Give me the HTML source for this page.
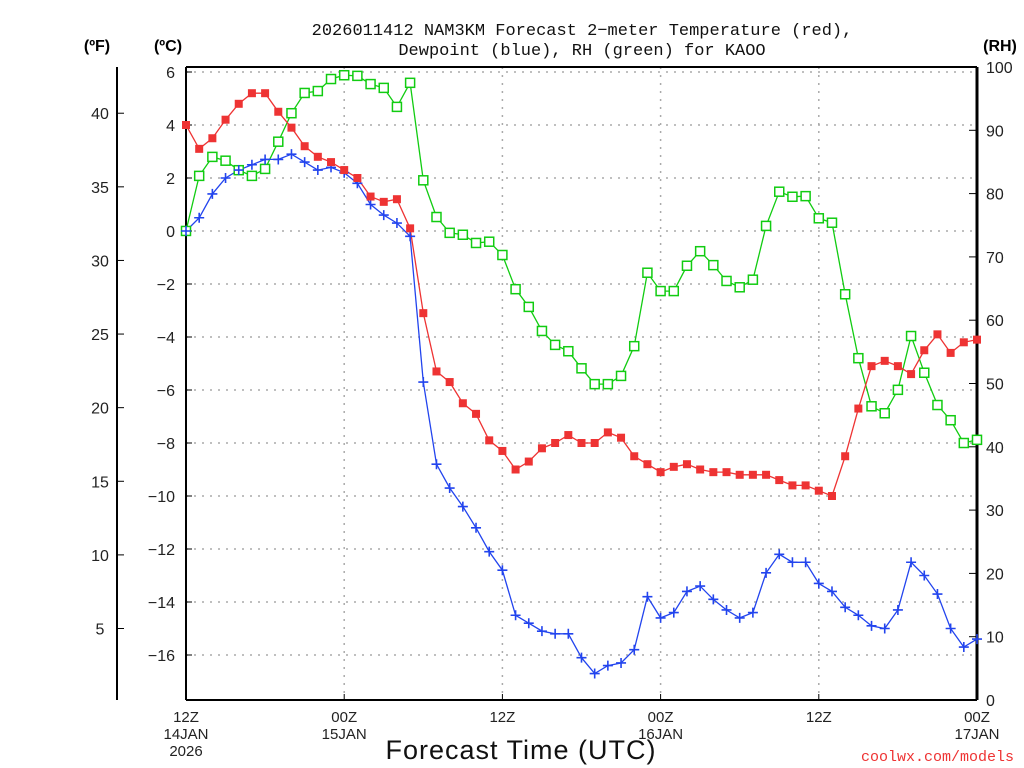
<!DOCTYPE html>
<html><head><meta charset="utf-8"><style>
body{margin:0;background:#fff;}
svg{display:block;font-family:"Liberation Sans",sans-serif;}
</style></head><body>
<svg id="chart" width="1024" height="768" xmlns="http://www.w3.org/2000/svg">
<g id="static"></g>
</svg>
<script>
const tempC=[4.0,3.1,3.5,4.2,4.8,5.2,5.2,4.5,3.9,3.2,2.8,2.6,2.3,2.0,1.3,1.1,1.2,0.1,-3.1,-5.3,-5.7,-6.5,-6.9,-7.9,-8.3,-9.0,-8.7,-8.2,-8.0,-7.7,-8.0,-8.0,-7.6,-7.8,-8.5,-8.8,-9.1,-8.9,-8.8,-9.0,-9.1,-9.1,-9.2,-9.2,-9.2,-9.4,-9.6,-9.6,-9.8,-10.0,-8.5,-6.7,-5.1,-4.9,-5.1,-5.4,-4.5,-3.9,-4.6,-4.2,-4.1];
const dewC=[0.0,0.5,1.4,2.0,2.3,2.5,2.7,2.7,2.9,2.6,2.3,2.4,2.2,1.8,1.0,0.6,0.3,-0.2,-5.7,-8.8,-9.7,-10.4,-11.2,-12.1,-12.8,-14.5,-14.8,-15.1,-15.2,-15.2,-16.1,-16.7,-16.4,-16.3,-15.8,-13.8,-14.6,-14.4,-13.6,-13.4,-13.9,-14.3,-14.6,-14.4,-12.9,-12.2,-12.5,-12.5,-13.3,-13.6,-14.2,-14.5,-14.9,-15.0,-14.3,-12.5,-13.0,-13.7,-15.0,-15.7,-15.4];
const rh=[74.1,82.8,85.8,85.2,83.7,82.8,83.9,88.2,92.7,95.9,96.2,98.1,98.7,98.6,97.3,96.7,93.7,97.5,82.1,76.3,73.8,73.5,72.2,72.4,70.3,64.9,62.1,58.3,56.1,55.1,52.4,49.9,49.9,51.2,55.9,67.5,64.6,64.6,68.6,70.9,68.7,66.2,65.2,66.4,74.9,80.3,79.5,79.6,76.1,75.4,64.1,54.0,46.4,45.3,49.0,57.5,51.7,46.6,44.2,40.6,41.1];
const cTicks=[6,4,2,0,-2,-4,-6,-8,-10,-12,-14,-16];
const fTicks=[40,35,30,25,20,15,10,5];
const rhTicks=[100,90,80,70,60,50,40,30,20,10,0];
const xTickHours=[0,12,24,36,48,60];
const xTickLabels=[["12Z","14JAN","2026"],["00Z","15JAN"],["12Z",""],["00Z","16JAN"],["12Z",""],["00Z","17JAN"]];

const L=186,R=977,T=67,B=700;
const xS=h=>L+(R-L)*h/60;
const yC=c=>231-26.5*c;
const yF=f=>yC((f-32)*5/9);
const yRH=v=>B-(B-T)*v/100;
const NS="http://www.w3.org/2000/svg";
const svg=document.getElementById('chart');
function mk(tag,attrs,parent){const e=document.createElementNS(NS,tag);for(const k in attrs)e.setAttribute(k,attrs[k]);(parent||svg).appendChild(e);return e;}
function txt(s,x,y,attrs){const e=mk('text',Object.assign({x:x,y:y},attrs));e.textContent=s;return e;}

// grid
cTicks.forEach(c=>{const y=yC(c);
 const g=mk('line',{x1:L,x2:R,y1:y,y2:y,stroke:'#aaa','stroke-dasharray':'2 6','stroke-width':1.5});
 
 
 const t=mk('line',{x1:L,x2:L+6,y1:y,y2:y,stroke:'#000','stroke-width':1});
 const lab=txt(String(c).replace('-','\u2212'),175,y+6,{'text-anchor':'end','font-size':16,fill:'#222'});
 
 
});
xTickHours.forEach((h,i)=>{const x=xS(h);
 if(h>0&&h<60){const g=mk('line',{x1:x,x2:x,y1:T,y2:B,stroke:'#aaa','stroke-dasharray':'2 6','stroke-width':1.5});
 
 }
 mk('line',{x1:x,x2:x,y1:B,y2:B-6,stroke:'#000'});
 xTickLabels[i].forEach((s,j)=>{const t=txt(s,x,722+j*17,{'text-anchor':'middle','font-size':15,fill:'#222'});
 
 });
});
// F axis
mk('line',{x1:117,x2:117,y1:T,y2:B,stroke:'#000','stroke-width':2});
fTicks.forEach(f=>{const y=yF(f);mk('line',{x1:117,x2:124,y1:y,y2:y,stroke:'#000'});
 const t=txt(String(f),100,y+6,{'text-anchor':'middle','font-size':16,fill:'#222'});
 
 });
// RH axis
rhTicks.forEach(v=>{const y=yRH(v);mk('line',{x1:R-8,x2:R,y1:y,y2:y,stroke:'#000'});
 const t=txt(String(v),986,y+6,{'font-size':16,fill:'#222'});
 
 });
// frame
mk('line',{x1:L,x2:R,y1:T,y2:T,stroke:'#000','stroke-width':2});
mk('line',{x1:L,x2:L,y1:T,y2:B,stroke:'#000','stroke-width':2});
mk('line',{x1:L,x2:R,y1:B,y2:B,stroke:'#000','stroke-width':2});
mk('line',{x1:R,x2:R,y1:T,y2:B,stroke:'#000','stroke-width':3});

function series(vals,yf,color,name){
 const pts=vals.map((v,i)=>xS(i).toFixed(1)+','+yf(v).toFixed(1)).join(' ');
 const p=mk('polyline',{points:pts,fill:'none',stroke:color,'stroke-width':1.3});
 
 
 return p;
}
series(rh,yRH,'#11cc11','rh');
series(dewC,yC,'#2244ee','dewpoint');
series(tempC,yC,'#ee3333','temperature');
rh.forEach((v,i)=>{const m=mk('rect',{x:xS(i)-4.5,y:yRH(v)-4.5,width:9,height:9,fill:'#fff',stroke:'#11cc11','stroke-width':1.5});
 
 });
dewC.forEach((v,i)=>{const x=xS(i),y=yC(v);const m=mk('path',{d:`M${x-5},${y}H${x+5}M${x},${y-5}V${y+5}`,stroke:'#2244ee','stroke-width':1.6});
 
 });
tempC.forEach((v,i)=>{const m=mk('rect',{x:xS(i)-4,y:yC(v)-4,width:8,height:8,fill:'#ee3333'});
 
 });

// titles
const mono={'font-family':'"Liberation Mono",monospace'};
let t;
t=txt('2026011412 NAM3KM Forecast 2\u2212meter Temperature (red),',582,35,Object.assign({'text-anchor':'middle','font-size':17,fill:'#111'},mono));


t=txt('Dewpoint (blue), RH (green) for KAOO',582,55,Object.assign({'text-anchor':'middle','font-size':17,fill:'#111'},mono));


t=txt('(ºF)',97,51,{'text-anchor':'middle','font-size':16,'font-weight':'bold'});


t=txt('(ºC)',168,51,{'text-anchor':'middle','font-size':16,'font-weight':'bold'});


t=txt('(RH)',1000,51,{'text-anchor':'middle','font-size':16,'font-weight':'bold'});


t=txt('Forecast Time (UTC)',521,759,{'text-anchor':'middle','font-size':27,fill:'#111','letter-spacing':'1'});


t=txt('coolwx.com/models',1014,761,Object.assign({'text-anchor':'end','font-size':15,fill:'#ee3333'},mono));


</script>
</body></html>
